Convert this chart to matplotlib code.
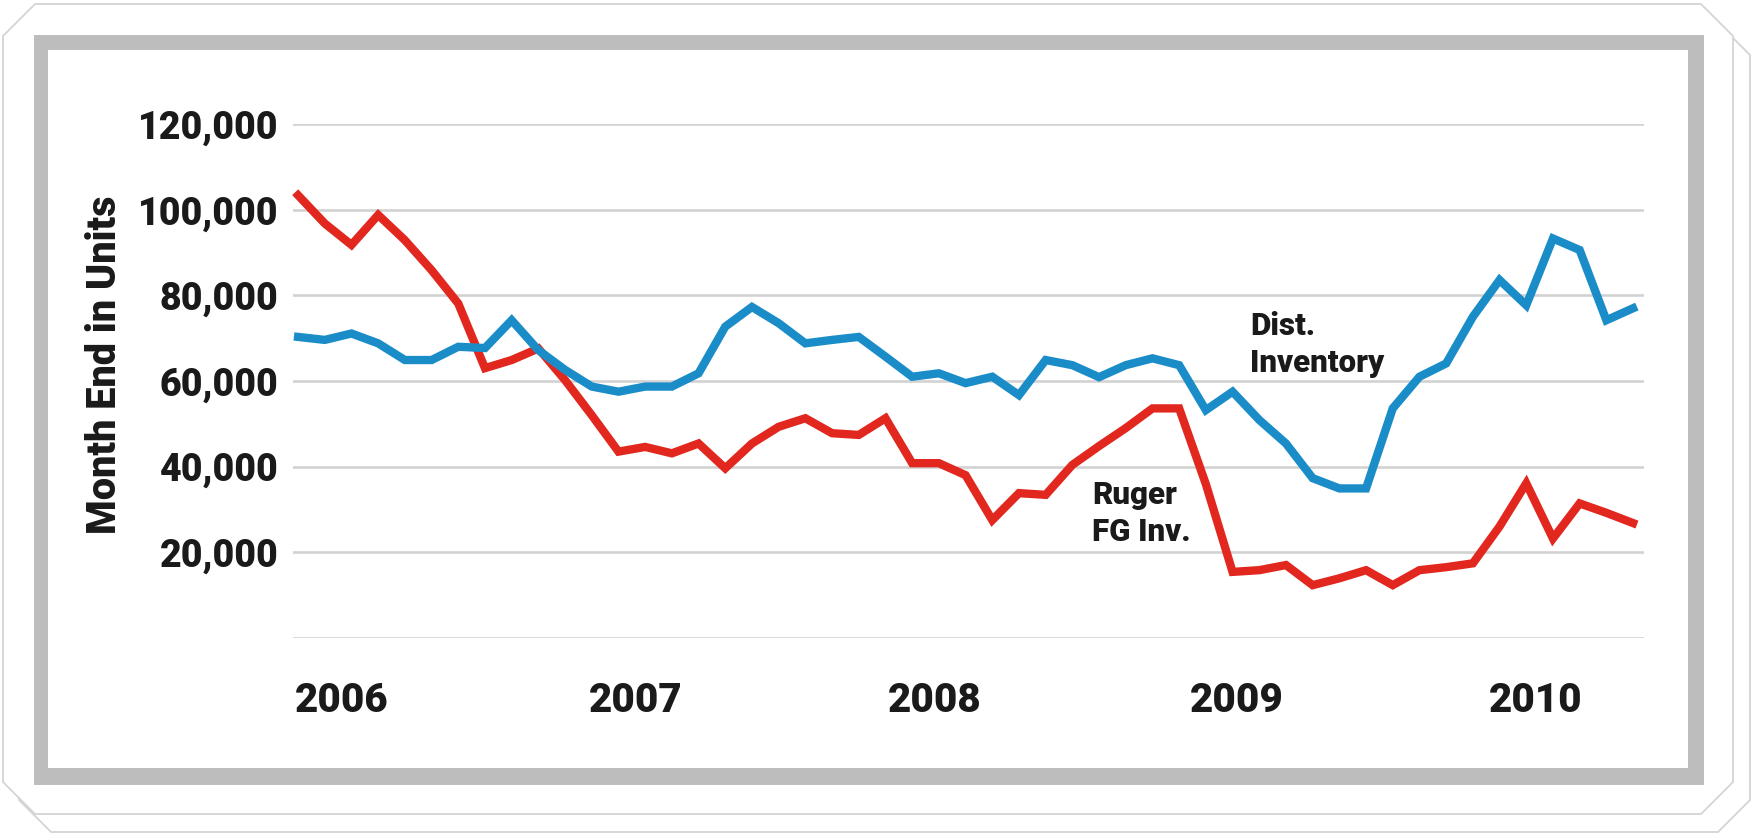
import matplotlib
matplotlib.use("Agg")
import matplotlib.pyplot as plt
from matplotlib.patches import Polygon, Rectangle
import numpy as np

# Month-end inventory in units, one value per month starting January 2006
dist_inventory = [70300, 69600, 71100, 68800, 64900, 64900, 68000, 67700, 74200, 67200,
                  62600, 58700, 57500, 58700, 58700, 61800, 72700, 77300, 73500, 68800,
                  69600, 70300, 65700, 61000, 61800, 59500, 61000, 56700, 64900, 63700,
                  60900, 63700, 65300, 63700, 53200, 57500, 50900, 45400, 37300, 34900,
                  34900, 53600, 61000, 64100, 75000, 83600, 77700, 93300, 90600, 74200,
                  77000]
ruger_fg_inv = [103400, 96800, 91800, 98800, 92900, 85900, 78100, 63000, 64900, 67600,
                60200, 52000, 43500, 44600, 43100, 45400, 39600, 45400, 49300, 51300,
                47800, 47400, 51300, 40800, 40800, 38000, 27500, 33800, 33400, 40400,
                44800, 49000, 53600, 53600, 35900, 15400, 15800, 17000, 12300, 13900,
                15800, 12300, 15800, 16500, 17400, 26000, 36100, 23200, 31400, 29200,
                26800]
years = ["2006", "2007", "2008", "2009", "2010"]
y_ticks = [0, 20000, 40000, 60000, 80000, 100000, 120000]
y_labels = ["", "20,000", "40,000", "60,000", "80,000", "100,000", "120,000"]

# where each year label starts along the month axis
year_pos = [-0.12, 10.9, 22.1, 33.4, 44.6]

FONT = ["Roboto", "DejaVu Sans"]
plt.rcParams["font.family"] = FONT

W, H = 1755, 834
fig = plt.figure(figsize=(W / 100, H / 100), dpi=100)
fig.patch.set_facecolor("white")

# ---- decorative panel frame drawn in pixel coordinates ----
bg = fig.add_axes([0, 0, 1, 1])
bg.set_xlim(0, W)
bg.set_ylim(H, 0)
bg.axis("off")


def octagon(x0, y0, x1, y1, c):
    return [(x0 + c, y0), (x1 - c, y0), (x1, y0 + c), (x1, y1 - c),
            (x1 - c, y1), (x0 + c, y1), (x0, y1 - c), (x0, y0 + c)]


edge = "#d4d4d4"
bg.add_patch(Polygon(octagon(19, 23, 1750, 832, 32), closed=True,
                     facecolor="white", edgecolor=edge, lw=1.3))
bg.add_patch(Polygon(octagon(3, 4, 1733, 814, 32), closed=True,
                     facecolor="white", edgecolor=edge, lw=1.3))
bg.add_patch(Rectangle((34, 35), 1670, 750, facecolor="#bdbdbd", edgecolor="none"))
bg.add_patch(Rectangle((48, 50), 1640, 718, facecolor="white", edgecolor="none"))

# ---- chart ----
left, right = 293 / W, 1644 / W
bottom, top = (H - 637.8) / H, (H - 124.2) / H
ax = fig.add_axes([left, bottom, right - left, top - bottom])
ax.patch.set_alpha(0)

x = np.arange(len(dist_inventory))
ax.plot(x, ruger_fg_inv, color="#e2271e", lw=6.0, solid_joinstyle="miter",
        clip_on=False, zorder=3)
ax.plot(x, dist_inventory, color="#1a8dc9", lw=6.0, solid_joinstyle="miter",
        clip_on=False, zorder=4)

ax.set_xlim(-0.19, 50.41)
ax.set_ylim(0, 120000)

ax.set_yticks(y_ticks, labels=y_labels)
ax.set_xticks(year_pos, labels=years)
ax.tick_params(axis="both", length=0)
ax.tick_params(axis="y", pad=10.5, labelsize=27, labelcolor="#1a1a1a")
ax.tick_params(axis="x", pad=31, labelsize=29, labelcolor="#1a1a1a")
for lab in ax.get_yticklabels():
    lab.set_fontweight("heavy")
for lab in ax.get_xticklabels():
    lab.set_fontweight("heavy")
    lab.set_horizontalalignment("left")

ax.grid(axis="y", color="#d2d2d2", lw=1.9)
ax.grid(axis="x", visible=False)
ax.set_axisbelow(True)
for s in ax.spines.values():
    s.set_visible(False)

fig.text(105 / W, 1 - 365 / H, "Month End in Units", rotation=90,
         ha="center", va="center", fontsize=28.5, fontweight="heavy", color="#1a1a1a")

ax.text(35.65, 76300, "Dist.\nInventory", ha="left", va="top", fontsize=22.5,
        fontweight="heavy", color="#1a1a1a", linespacing=1.3)
ax.text(29.75, 36800, "Ruger\nFG Inv.", ha="left", va="top", fontsize=22.5,
        fontweight="heavy", color="#1a1a1a", linespacing=1.3)

fig.savefig("out.png", dpi=100, facecolor="white")
